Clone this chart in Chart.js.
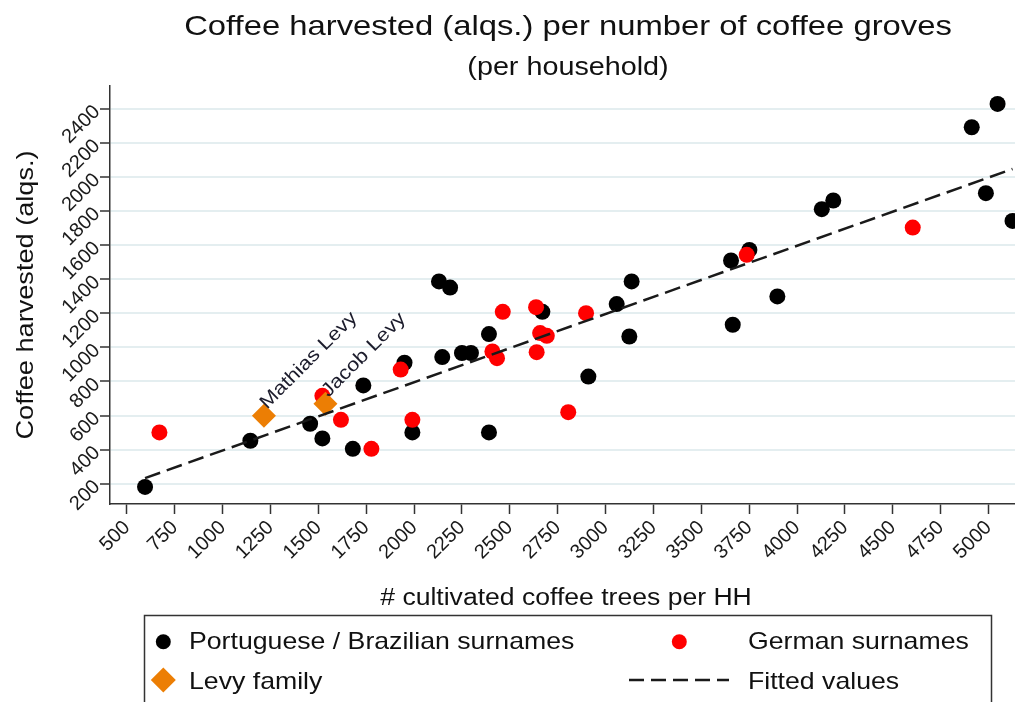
<!DOCTYPE html>
<html>
<head>
<meta charset="utf-8">
<title>Coffee harvested per number of coffee groves</title>
<script src="https://cdn.jsdelivr.net/npm/chart.js@4.4.1/dist/chart.umd.min.js"></script>
<style>
  html, body { margin: 0; padding: 0; background: #ffffff; }
  #wrap { width: 1015px; height: 702px; position: relative; }
</style>
</head>
<body>
<div id="wrap"><canvas id="chart" width="1015" height="702"></canvas></div>
<script>
// Axis ticks
const xTicks = [500, 750, 1000, 1250, 1500, 1750, 2000, 2250, 2500, 2750, 3000,
                3250, 3500, 3750, 4000, 4250, 4500, 4750, 5000];
const yTicks = [200, 400, 600, 800, 1000, 1200, 1400, 1600, 1800, 2000, 2200, 2400];

// Households: [coffee trees, coffee harvested (alqs.)]
const portuguese = [
  [595, 181], [1145, 452], [1457, 552], [1521, 466], [1680, 405], [1735, 777],
  [1950, 910], [1991, 501], [2130, 1387], [2188, 1351], [2147, 943], [2250, 967],
  [2297, 967], [2391, 1078], [2391, 501], [2670, 1209], [2910, 829], [3058, 1254],
  [3136, 1387], [3124, 1064], [3655, 1510], [3751, 1572], [3664, 1133], [3897, 1299],
  [4129, 1811], [4189, 1862], [4912, 2292], [5047, 2429], [4986, 1905], [5125, 1742]
];
const german = [
  [670, 501], [1521, 716], [1618, 575], [1777, 405], [1930, 870], [1991, 575],
  [2409, 976], [2433, 937], [2463, 1209], [2637, 1236], [2658, 1084], [2693, 1068],
  [2640, 972], [2805, 620], [2898, 1201], [3737, 1543], [4604, 1703]
];
const levy = [[1216, 599], [1537, 669]];
const levyNames = ['Mathias Levy', 'Jacob Levy'];

// Linear fit across the observed range
const fitted = [[595, 233], [5125, 2047]];

const titleText = 'Coffee harvested (alqs.) per number of coffee groves';
const subtitleText = '(per household)';
const xTitle = '# cultivated coffee trees per HH';
const yTitle = 'Coffee harvested (alqs.)';
const legendLabels = ['Portuguese / Brazilian surnames', 'German surnames', 'Levy family', 'Fitted values'];

const FONT = "'Liberation Sans', Arial, Helvetica, sans-serif";
const STRETCH = 1.15;
const ORANGE = '#ec7e04';
const INK = '#111111';

const toXY = arr => arr.map(([x, y]) => ({ x, y }));
const plainNumber = v => String(v);

function drawText(ctx, text, x, y, size, align, rot, color) {
  ctx.save();
  ctx.translate(x, y);
  if (rot) ctx.rotate(rot);
  ctx.scale(STRETCH, 1);
  ctx.font = size + 'px ' + FONT;
  ctx.fillStyle = color || INK;
  ctx.textAlign = align;
  ctx.textBaseline = 'alphabetic';
  ctx.fillText(text, 0, 0);
  ctx.restore();
}

function diamond(ctx, x, y, r, color) {
  ctx.beginPath();
  ctx.moveTo(x, y - r);
  ctx.lineTo(x + r, y);
  ctx.lineTo(x, y + r);
  ctx.lineTo(x - r, y);
  ctx.closePath();
  ctx.fillStyle = color;
  ctx.fill();
}

function dot(ctx, x, y, r, color) {
  ctx.beginPath();
  ctx.arc(x, y, r, 0, Math.PI * 2);
  ctx.fillStyle = color;
  ctx.fill();
}

const decorations = {
  id: 'decorations',
  beforeDraw(chart) {
    const ctx = chart.ctx;
    ctx.save();
    ctx.fillStyle = '#ffffff';
    ctx.fillRect(0, 0, chart.width, chart.height);
    ctx.restore();
  },
  afterDraw(chart) {
    const ctx = chart.ctx;
    const area = chart.chartArea;
    const cx = 568;

    // Titles
    drawText(ctx, titleText, cx, 35, 28.5, 'center', 0);
    drawText(ctx, subtitleText, cx, 75, 25, 'center', 0);

    // Axis titles
    drawText(ctx, yTitle, 33, (area.top + area.bottom) / 2, 23.6, 'center', -Math.PI / 2);
    drawText(ctx, xTitle, 566, 605, 23.1, 'center', 0);

    // Name labels next to the Levy markers
    const xs = chart.scales.x, ys = chart.scales.y;
    levy.forEach(([vx, vy], i) => {
      const px = xs.getPixelForValue(vx), py = ys.getPixelForValue(vy);
      drawText(ctx, levyNames[i], px + 3, py - 6, 19, 'left', -Math.PI / 4, '#1b1b2b');
    });

    // Legend box
    ctx.save();
    ctx.strokeStyle = '#333333';
    ctx.lineWidth = 1.5;
    ctx.strokeRect(144.5, 615.5, 847, 110);
    ctx.restore();

    const r1 = 641.7, r2 = 680;
    dot(ctx, 163.3, r1, 7.5, '#000000');
    dot(ctx, 679.3, r1, 7.5, '#ff0000');
    diamond(ctx, 163.3, r2, 12.5, ORANGE);
    ctx.save();
    ctx.strokeStyle = '#1a1a1a';
    ctx.lineWidth = 2.5;
    ctx.setLineDash([15, 7]);
    ctx.beginPath();
    ctx.moveTo(629, r2);
    ctx.lineTo(729, r2);
    ctx.stroke();
    ctx.restore();

    drawText(ctx, legendLabels[0], 189, 649, 23.2, 'left', 0);
    drawText(ctx, legendLabels[1], 748, 649, 23.2, 'left', 0);
    drawText(ctx, legendLabels[2], 189, 689, 23.2, 'left', 0);
    drawText(ctx, legendLabels[3], 748, 689, 23.2, 'left', 0);
  }
};

new Chart(document.getElementById('chart'), {
  type: 'scatter',
  data: {
    datasets: [
      {
        label: legendLabels[3],
        data: toXY(fitted),
        showLine: true,
        borderColor: '#1a1a1a',
        borderWidth: 2.5,
        borderDash: [16, 7],
        pointRadius: 0,
        fill: false,
        order: 0
      },
      {
        label: legendLabels[2],
        data: toXY(levy),
        pointStyle: 'rectRot',
        pointRadius: 12,
        backgroundColor: ORANGE,
        borderWidth: 0,
        order: 1
      },
      {
        label: legendLabels[1],
        data: toXY(german),
        pointRadius: 8,
        backgroundColor: '#ff0000',
        borderWidth: 0,
        order: 2
      },
      {
        label: legendLabels[0],
        data: toXY(portuguese),
        pointRadius: 8,
        backgroundColor: '#000000',
        borderWidth: 0,
        order: 3
      }
    ]
  },
  options: {
    responsive: false,
    devicePixelRatio: 1,
    animation: false,
    events: [],
    layout: { autoPadding: false, padding: { top: 86, left: 0, right: 0, bottom: 88 } },
    plugins: {
      legend: { display: false },
      title: { display: false },
      tooltip: { enabled: false }
    },
    scales: {
      x: {
        type: 'linear',
        min: 412,
        max: 5138,
        afterBuildTicks: s => { s.ticks = xTicks.map(v => ({ value: v })); },
        afterFit: s => { s.height = 110; s.paddingLeft = 0; s.paddingRight = 0; },
        ticks: {
          autoSkip: false,
          minRotation: 45,
          maxRotation: 45,
          padding: 2,
          color: '#1a1a1a',
          font: { family: FONT, size: 20 },
          callback: plainNumber
        },
        grid: {
          display: true,
          drawOnChartArea: false,
          drawTicks: true,
          tickLength: 10,
          tickColor: '#333333',
          tickWidth: 1.5
        },
        border: { display: true, color: '#333333', width: 1.5 }
      },
      y: {
        type: 'linear',
        min: 81,
        max: 2534,
        afterBuildTicks: s => { s.ticks = yTicks.map(v => ({ value: v })); },
        afterFit: s => { s.width = 110; s.paddingTop = 0; s.paddingBottom = 0; },
        ticks: {
          autoSkip: false,
          minRotation: 45,
          maxRotation: 45,
          padding: 3,
          color: '#1a1a1a',
          font: { family: FONT, size: 20 },
          callback: plainNumber
        },
        grid: {
          color: '#e4eef0',
          lineWidth: 2,
          drawTicks: true,
          tickLength: 10,
          tickColor: '#333333',
          tickWidth: 1.5
        },
        border: { display: true, color: '#333333', width: 1.5 }
      }
    }
  },
  plugins: [decorations]
});
</script>
</body>
</html>
